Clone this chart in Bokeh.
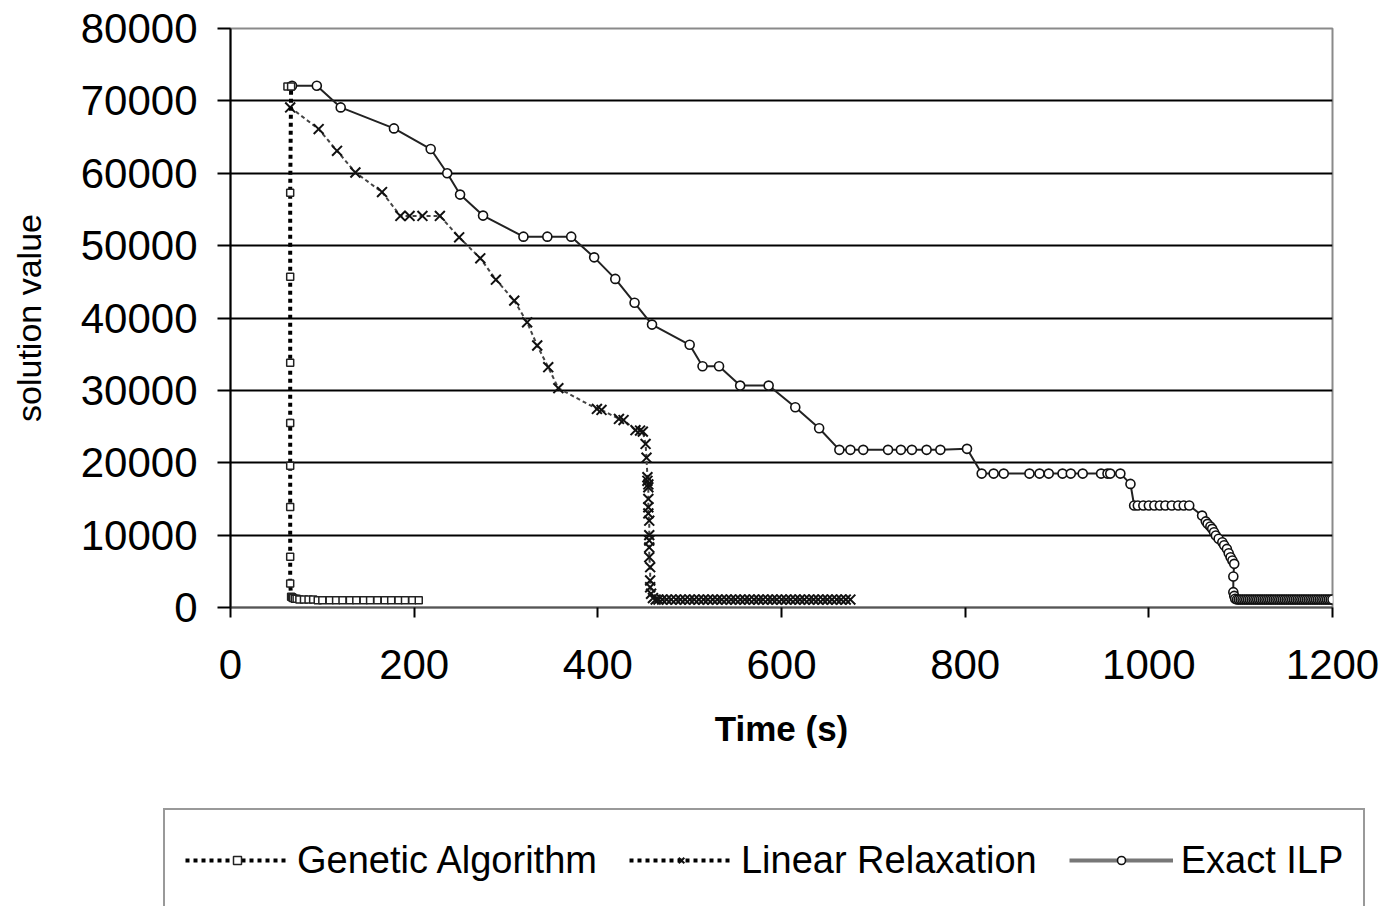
from bokeh.plotting import figure
from bokeh.models import Range1d, FixedTicker, Legend, LegendItem
from bokeh.embed import file_html
from bokeh.resources import INLINE

# ---------------- data ----------------
ga_time = [62, 66, 65, 65, 65, 65, 65, 65, 65, 65, 66, 67, 68, 70, 72, 75, 80, 85, 90,
           95, 100, 108, 115, 122, 130, 137, 145, 152, 160, 168, 175, 183, 190, 198, 205]
ga_value = [72000, 72000, 57300, 45700, 33800, 25500, 19600, 13900, 7000, 3300, 1500,
            1400, 1300, 1200, 1200, 1100, 1100, 1100, 1100, 1000, 1000, 1000, 1000, 1000,
            1000, 1000, 1000, 1000, 1000, 1000, 1000, 1000, 1000, 1000, 1000]

lr_time = [65, 96, 116, 136, 165, 185, 195, 209, 228, 249, 272, 289, 309, 323, 334, 346,
           357, 399, 404, 423, 428, 441, 446, 449, 452, 453, 454, 454, 455, 455, 455, 455,
           455, 456, 456, 456, 456, 456, 457, 457, 457, 458, 460, 463, 466, 470, 475, 480,
           485, 490, 495, 500, 505, 510, 515, 520, 525, 530, 535, 540, 545, 550, 555, 560,
           565, 570, 575, 580, 585, 590, 595, 600, 605, 610, 615, 620, 625, 630, 635, 640,
           645, 650, 655, 660, 665, 670, 675]
lr_value = [69100, 66100, 63100, 60100, 57400, 54100, 54100, 54100, 54100, 51150, 48250,
            45300, 42400, 39400, 36200, 33200, 30300, 27440, 27300, 26060, 25900, 24500,
            24450, 24300, 22600, 20700, 18000, 17500, 17000, 16600, 15000, 13850, 13000,
            12000, 10000, 9250, 8300, 6950, 5570, 3730, 2800, 1900, 1300, 1100, 1100, 1100,
            1100, 1100, 1100, 1100, 1100, 1100, 1100, 1100, 1100, 1100, 1100, 1100, 1100,
            1100, 1100, 1100, 1100, 1100, 1100, 1100, 1100, 1100, 1100, 1100, 1100, 1100,
            1100, 1100, 1100, 1100, 1100, 1100, 1100, 1100, 1100, 1100, 1100, 1100, 1100,
            1100, 1100]

ilp_time_main = [67, 94, 120, 178, 218, 236, 250, 275, 319, 345, 371, 396, 419, 440, 459,
                 500, 514, 532, 555, 586, 615, 641, 663, 675, 689, 716, 730, 742, 758, 773,
                 802, 818, 831, 842, 870, 881, 891, 906, 915, 928, 948, 955, 958, 969, 980,
                 984, 988, 994, 1000, 1006, 1012, 1018, 1025, 1032, 1038, 1044, 1058, 1062,
                 1064, 1067, 1069, 1071, 1073, 1076, 1080, 1082, 1085, 1087, 1089, 1091,
                 1093, 1092, 1092, 1093, 1094]
ilp_value_main = [72100, 72100, 69100, 66200, 63350, 60000, 57050, 54150, 51240, 51240,
                  51240, 48380, 45400, 42100, 39090, 36300, 33330, 33330, 30660, 30660,
                  27670, 24770, 21780, 21780, 21780, 21780, 21780, 21780, 21780, 21780,
                  21920, 18500, 18500, 18500, 18500, 18500, 18500, 18500, 18500, 18500,
                  18500, 18500, 18500, 18500, 17080, 14090, 14090, 14090, 14090, 14090,
                  14090, 14090, 14090, 14090, 14090, 14090, 12700, 11900, 11560, 11200,
                  10870, 10400, 9940, 9500, 9020, 8600, 8100, 7500, 6950, 6500,
                  6030, 4280, 2120, 1600, 1200]
ilp_time_tail = [1096, 1098, 1100, 1102, 1104, 1106, 1108, 1110, 1112, 1114, 1116, 1118,
                 1120, 1122, 1124, 1126, 1128, 1130, 1132, 1134, 1136, 1138, 1140, 1142,
                 1144, 1146, 1148, 1150, 1152, 1154, 1156, 1158, 1160, 1162, 1164, 1166,
                 1168, 1170, 1172, 1174, 1176, 1178, 1180, 1182, 1184, 1186, 1188, 1190,
                 1192, 1194, 1196, 1198, 1200]
ilp_value_tail = [1100, 1100, 1100, 1100, 1100, 1100, 1100, 1100, 1100, 1100, 1100, 1100,
                  1100, 1100, 1100, 1100, 1100, 1100, 1100, 1100, 1100, 1100, 1100, 1100,
                  1100, 1100, 1100, 1100, 1100, 1100, 1100, 1100, 1100, 1100, 1100, 1100,
                  1100, 1100, 1100, 1100, 1100, 1100, 1100, 1100, 1100, 1100, 1100, 1100,
                  1100, 1100, 1100, 1100, 1100]
ilp_time = ilp_time_main + ilp_time_tail
ilp_value = ilp_value_main + ilp_value_tail

x_ticks = [0, 200, 400, 600, 800, 1000, 1200]
y_ticks = [0, 10000, 20000, 30000, 40000, 50000, 60000, 70000, 80000]
series_labels = ["Genetic Algorithm", "Linear Relaxation", "Exact ILP"]

FONT = "Liberation Sans"

# styles
GA_LINE = dict(line_color="black", line_width=4, line_dash="4 4")
GA_MARK = dict(marker="square", size=7, line_color="#222222", line_width=1.5, fill_color="white")
LR_LINE = dict(line_color="#444444", line_width=2, line_dash="4 3")
LR_MARK = dict(marker="x", size=14, line_color="#111111", line_width=2)
ILP_LINE = dict(line_color="#222222", line_width=2)
ILP_MARK = dict(marker="circle", size=9, line_color="#111111", line_width=1.6, fill_color="white")

# ---------------- main chart ----------------
p = figure(width=1382, height=760, output_backend="svg", toolbar_location=None,
           x_range=Range1d(0, 1200), y_range=Range1d(0, 80000),
           min_border_left=230, min_border_right=50, min_border_top=28,
           min_border_bottom=153)

p.background_fill_color = "white"
p.border_fill_color = "white"
p.outline_line_color = "#8a8a8a"
p.outline_line_width = 2

p.xgrid.visible = False
p.ygrid.ticker = FixedTicker(ticks=y_ticks[1:-1])
p.ygrid.grid_line_color = "black"
p.ygrid.grid_line_width = 2

for ax in (p.xaxis[0], p.yaxis[0]):
    ax.major_label_text_font = FONT
    ax.major_label_text_font_size = "42px"
    ax.major_label_text_color = "black"
    ax.axis_line_color = "black"
    ax.axis_line_width = 2
    ax.major_tick_line_color = "black"
    ax.major_tick_line_width = 2
    ax.major_tick_in = 0
    ax.minor_tick_line_color = None
    ax.axis_label_text_font = FONT
    ax.axis_label_text_color = "black"

p.xaxis.ticker = FixedTicker(ticks=x_ticks)
p.yaxis.ticker = FixedTicker(ticks=y_ticks)
p.xaxis.major_tick_out = 10
p.yaxis.major_tick_out = 13
p.xaxis.axis_line_color = "#555555"
p.xaxis.major_label_standoff = 32
p.yaxis.major_label_standoff = 20
p.xaxis.axis_label = "Time (s)"
p.xaxis.axis_label_text_font_size = "35px"
p.xaxis.axis_label_text_font_style = "bold"
p.xaxis.axis_label_standoff = 27
p.yaxis.axis_label = "solution value"
p.yaxis.axis_label_text_font_size = "34px"
p.yaxis.axis_label_text_font_style = "normal"
p.yaxis.axis_label_standoff = 30

p.line(ilp_time, ilp_value, **ILP_LINE)
p.scatter(ilp_time, ilp_value, **ILP_MARK)
p.line(lr_time, lr_value, **LR_LINE)
p.scatter(lr_time, lr_value, **LR_MARK)
p.line(ga_time, ga_value, **GA_LINE)
p.scatter(ga_time, ga_value, **GA_MARK)

# ---------------- legend strip (separate root, full-width frame) ----------------
q = figure(width=1382, height=146, output_backend="svg", toolbar_location=None,
           x_range=Range1d(0, 1), y_range=Range1d(0, 1),
           x_axis_location=None, y_axis_location=None,
           min_border_left=0, min_border_right=0, min_border_top=0, min_border_bottom=0)
q.grid.visible = False
q.outline_line_color = None
q.background_fill_color = "white"
q.border_fill_color = "white"

# legend proxies lie outside the visible range of this strip
px = [-2, -1]
py = [-2, -2]
g1 = q.line(px, py, **GA_LINE)
g2 = q.scatter(px, py, **GA_MARK)
l1 = q.line(px, py, line_color="black", line_width=4, line_dash="4 4")
l2 = q.scatter(px, py, **LR_MARK)
i1 = q.line(px, py, line_color="#777777", line_width=4)
i2 = q.scatter(px, py, **ILP_MARK)

legend = Legend(items=[
    LegendItem(label=series_labels[0], renderers=[g1, g2]),
    LegendItem(label=series_labels[1], renderers=[l1, l2]),
    LegendItem(label=series_labels[2], renderers=[i1, i2]),
], orientation="horizontal", location=(163, -6))
legend.label_text_font = FONT
legend.label_text_font_size = "38px"
legend.label_text_color = "black"
legend.glyph_width = 104
legend.glyph_height = 20
legend.label_height = 60
legend.label_standoff = 8
legend.spacing = 32
legend.padding = 20
legend.margin = 0
legend.border_line_color = "#333333"
legend.border_line_width = 2
legend.background_fill_alpha = 1
q.add_layout(legend, "center")

open("out.html", "w").write(file_html([p, q], INLINE))
